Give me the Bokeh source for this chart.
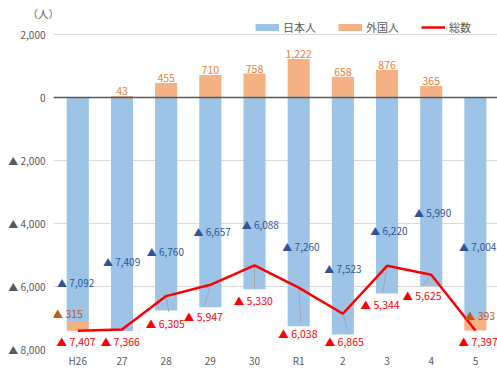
from bokeh.plotting import figure
from bokeh.models import (FixedTicker, Span, Legend, LegendItem, Title,
                          ColumnDataSource, Range1d)
from bokeh.core.properties import value
from bokeh.embed import file_html
from bokeh.resources import INLINE

# ---------------- data ----------------
categories = ["H26", "27", "28", "29", "30", "R1", "2", "3", "4", "5"]
japanese = [-7092, -7409, -6760, -6657, -6088, -7260, -7523, -6220, -5990, -7004]
foreign = [-315, 43, 455, 710, 758, 1222, 658, 876, 365, -393]
total = [-7407, -7366, -6305, -5947, -5330, -6038, -6865, -5344, -5625, -7397]

y_ticks = [2000, 0, -2000, -4000, -6000, -8000]

# hand-placed data label positions (offset from category centre, value units)
jp_lab_dx = [-0.47, -0.43, -0.44, -0.38, -0.29, -0.37, -0.42, -0.38, -0.39, -0.37]
jp_lab_y = [-5858, -5197, -4882, -4252, -4031, -4724, -5417, -4220, -3654, -4724]
tot_lab_dx = [-0.48, -0.48, -0.46, -0.60, -0.47, -0.46, -0.41, -0.60, -0.65, -0.38]
tot_lab_y = [-7748, -7748, -7181, -6961, -6457, -7496, -7748, -6583, -6299, -7748]
fneg_lab_dx = [-0.57, None, None, None, None, None, None, None, None, -0.24]
fneg_lab_y = [-6866, None, None, None, None, None, None, None, None, -6929]
# leader lines from the total line to its labels
lead_dx = [None, None, 0.06, -0.13, 0.0, 0.05, 0.10, -0.10, -0.20, None]
lead_y = [None, None, -6803, -6614, -6047, -7118, -7370, -6205, -5984, None]

FONT = value("Noto Sans CJK JP")
GRAY_TXT = "#595959"
C_JP = "#9DC3E6"
C_FO = "#F4B183"
C_TOT = "#FF0000"


def fmt(v):
    return ("▲ " + f"{-v:,}") if v < 0 else f"{v:,}"


n = len(categories)
xs = list(range(n))
nan = float("nan")

# frame: top at 20px, 2,000 gridline at 34px, -8,000 at 351px
PX_PER_UNIT = (351 - 34) / 10000.0
Y_TOP = 2000 + (34 - 20) / PX_PER_UNIT

# ---------------- figure ----------------
p = figure(width=497, height=370, output_backend="svg", toolbar_location=None,
           x_range=Range1d(-0.55, 9.5), y_range=Range1d(-8000, Y_TOP),
           min_border_left=53, min_border_right=0, min_border_top=20,
           min_border_bottom=19)
p.outline_line_color = None
p.background_fill_color = "white"
p.border_fill_color = "white"

# axes
p.yaxis.ticker = FixedTicker(ticks=y_ticks)
p.yaxis.major_label_overrides = {t: fmt(t) for t in y_ticks}
p.xaxis.ticker = FixedTicker(ticks=xs)
p.xaxis.major_label_overrides = {i: c for i, c in zip(xs, categories)}
for ax in (p.xaxis, p.yaxis):
    ax.axis_line_color = None
    ax.major_tick_line_color = None
    ax.minor_tick_line_color = None
    ax.major_tick_out = 0
    ax.major_tick_in = 0
    ax.major_label_text_font = "Noto Sans CJK JP"
    ax.major_label_text_font_size = "10px"
    ax.major_label_text_color = GRAY_TXT
p.yaxis.major_label_standoff = 8
p.xaxis.major_label_standoff = 3
p.xgrid.visible = False
p.ygrid.ticker = FixedTicker(ticks=y_ticks)
p.ygrid.grid_line_color = "#D9D9D9"
p.ygrid.grid_line_width = 1

# bars
jp_src = ColumnDataSource(dict(x=xs, top=[0] * n, bottom=japanese))
fo_bottom = [0 if f > 0 else j for f, j in zip(foreign, japanese)]
fo_top = [f if f > 0 else j + f for f, j in zip(foreign, japanese)]
fo_src = ColumnDataSource(dict(x=xs, top=fo_top, bottom=fo_bottom))
p.vbar(x="x", top="top", bottom="bottom", width=0.5, source=jp_src,
       fill_color=C_JP, line_color=None)
p.vbar(x="x", top="top", bottom="bottom", width=0.5, source=fo_src,
       fill_color=C_FO, line_color=None)

# zero line
p.add_layout(Span(location=0, dimension="width", line_color="#595959",
                  line_width=1.6))

# leader lines
lx0, ly0, lx1, ly1 = [], [], [], []
for i in xs:
    if lead_dx[i] is not None:
        lx0.append(i)
        ly0.append(total[i])
        lx1.append(i + lead_dx[i])
        ly1.append(lead_y[i])
p.segment(x0=lx0, y0=ly0, x1=lx1, y1=ly1, line_color="#A6A6A6", line_width=1)

# total line
tot_r = p.line(x=xs, y=total, line_color=C_TOT, line_width=2.5)

# data labels
p.text(x=[i + d for i, d in zip(xs, jp_lab_dx)], y=jp_lab_y,
       text=[fmt(v) for v in japanese], text_font=FONT, text_font_size="10px",
       text_color="#2F5597", text_align="left", text_baseline="middle")
p.text(x=[i + d for i, d in zip(xs, tot_lab_dx)], y=tot_lab_y,
       text=[fmt(v) for v in total], text_font=FONT, text_font_size="10.5px",
       text_color=C_TOT, text_align="left", text_baseline="middle")
pos_idx = [i for i in xs if foreign[i] > 0]
p.text(x=pos_idx, y=[foreign[i] for i in pos_idx],
       text=[fmt(foreign[i]) for i in pos_idx], text_font=FONT,
       text_font_size="10.5px", text_color="#ED7D31", text_align="center",
       text_baseline="bottom", y_offset=-1)
neg_idx = [i for i in xs if foreign[i] < 0]
p.text(x=[i + fneg_lab_dx[i] for i in neg_idx], y=[fneg_lab_y[i] for i in neg_idx],
       text=[fmt(foreign[i]) for i in neg_idx], text_font=FONT,
       text_font_size="10.5px", text_color="#C55A11", text_align="left",
       text_baseline="middle")

# legend swatches: invisible (NaN) lines drawn thick give flat bar patches
dj = p.line(x=[nan, nan], y=[nan, nan], line_color=C_JP, line_width=7)
df = p.line(x=[nan, nan], y=[nan, nan], line_color=C_FO, line_width=7)
legend = Legend(items=[LegendItem(label="日本人", renderers=[dj]),
                       LegendItem(label="外国人", renderers=[df]),
                       LegendItem(label="総数", renderers=[tot_r])],
                orientation="horizontal", location=(202, 314),
                glyph_width=24, glyph_height=14, label_standoff=4, spacing=22,
                padding=0, margin=0, label_text_font="Noto Sans CJK JP",
                label_text_font_size="11px", label_text_color=GRAY_TXT,
                background_fill_alpha=0, border_line_color=None)
p.add_layout(legend, "center")

# unit caption
p.title = Title(text="（人）", align="left", offset=-26, standoff=0,
                text_font="Noto Sans CJK JP", text_font_size="10.5px",
                text_font_style="normal", text_color=GRAY_TXT)

open("out.html", "w").write(file_html(p, INLINE))
